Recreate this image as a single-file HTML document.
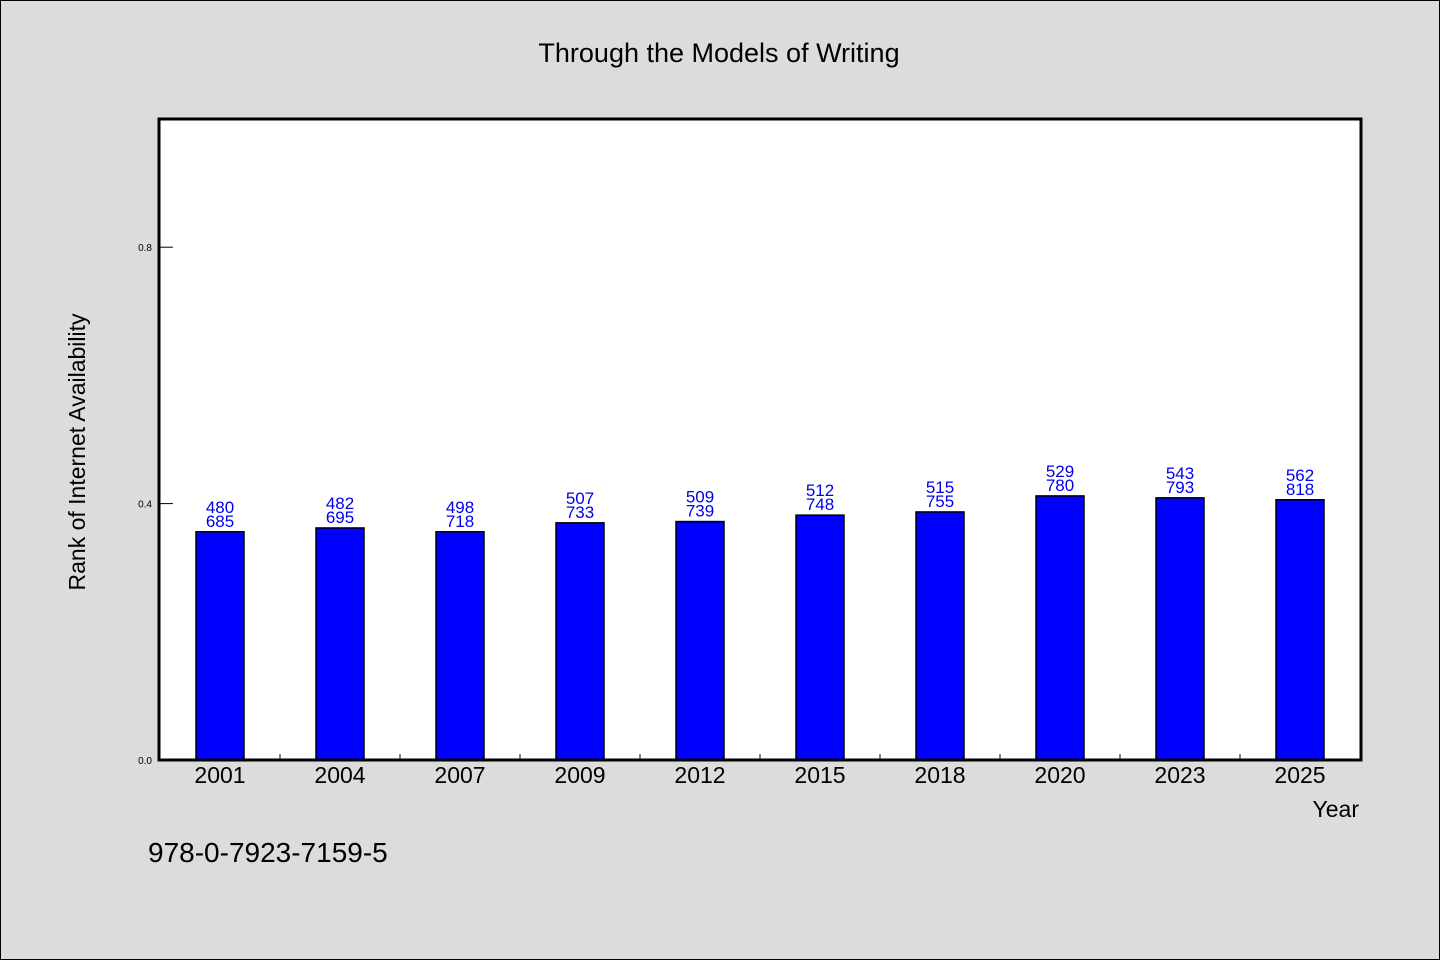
<!DOCTYPE html>
<html><head><meta charset="utf-8"><style>
html,body{margin:0;padding:0;background:#dcdcdc;}
svg{display:block;font-family:"WenQuanYi Zen Hei","Liberation Sans",sans-serif;}
</style></head><body>
<svg width="1440" height="960" viewBox="0 0 1440 960">
<rect x="0.5" y="0.5" width="1439" height="959" fill="#dcdcdc" stroke="#000"/>
<text x="719" y="62" font-size="27" text-anchor="middle">Through the Models of Writing</text>
<rect x="159" y="119" width="1202" height="641" fill="#fff"/>
<g id="bars"></g>
<g id="axes"></g>
<rect x="159" y="119" width="1202" height="641" fill="none" stroke="#000" stroke-width="3"/>
<text transform="translate(85,452) rotate(-90)" font-size="23" text-anchor="middle">Rank of Internet Availability</text>
<text x="1359" y="817" font-size="23" text-anchor="end">Year</text>
<text x="148" y="862" font-size="28">978-0-7923-7159-5</text>
</svg>
<script>
const categories=["2001","2004","2007","2009","2012","2015","2018","2020","2023","2025"];
const values=[0.356,0.362,0.356,0.370,0.372,0.382,0.387,0.412,0.409,0.406];
const labelTop=["480","482","498","507","509","512","515","529","543","562"];
const labelBottom=["685","695","718","733","739","748","755","780","793","818"];
const yTicks=[0,0.4,0.8];
const yTickLabels=["0.0","0.4","0.8"];
const NS="http://www.w3.org/2000/svg";
const X0=160,X1=1360,Y0=760,Y1=119;
const band=(X1-X0)/categories.length;
const xc=i=>X0+band*(i+0.5);
const y=v=>Y0-(Y0-Y1)*v;
function mk(t,a){const e=document.createElementNS(NS,t);for(const k in a)e.setAttribute(k,a[k]);return e;}
const bars=document.getElementById('bars'),axes=document.getElementById('axes');
categories.forEach((c,i)=>{
  const w=48;
  const r=mk('rect',{x:xc(i)-w/2,y:y(values[i]),width:w,height:Y0-y(values[i]),fill:'#0000ff',stroke:'#000','stroke-width':1.5});
  
  
  bars.appendChild(r);
  const t1=mk('text',{x:xc(i),y:y(values[i])-19,'font-size':17,fill:'#0000ee','text-anchor':'middle'});
  t1.textContent=labelTop[i];
  
  
  bars.appendChild(t1);
  const t2=mk('text',{x:xc(i),y:y(values[i])-5,'font-size':17,fill:'#0000ee','text-anchor':'middle'});
  t2.textContent=labelBottom[i];
  
  
  bars.appendChild(t2);
  const xl=mk('text',{x:xc(i),y:783,'font-size':23,'text-anchor':'middle'});
  xl.textContent=c;
  
  
  axes.appendChild(xl);
  if(i>0){
    const tk=mk('line',{x1:X0+band*i,x2:X0+band*i,y1:Y0,y2:Y0-6,stroke:'#000','stroke-width':1});
    
    
    axes.appendChild(tk);
  }
});
yTicks.forEach((v,i)=>{
  const tk=mk('line',{x1:X0,x2:X0+13,y1:y(v),y2:y(v),stroke:'#000','stroke-width':1});
  
  
  axes.appendChild(tk);
  const tl=mk('text',{x:152,y:y(v)+4,'font-size':10,'text-anchor':'end'});
  tl.textContent=yTickLabels[i];
  
  
  axes.appendChild(tl);
});
</script>
</body></html>
